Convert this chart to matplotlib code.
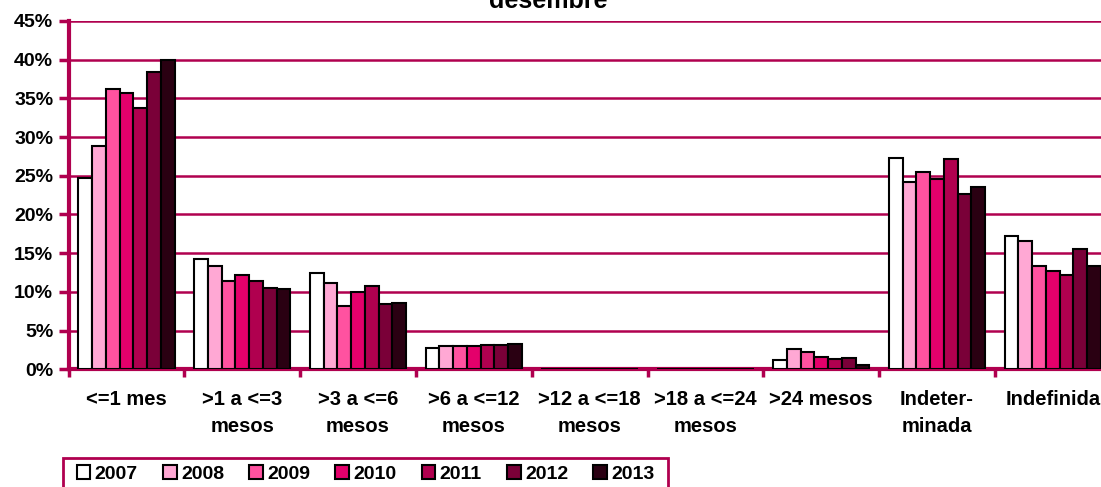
import numpy as np
import matplotlib.pyplot as plt
from matplotlib.patches import Rectangle
from matplotlib.ticker import FuncFormatter

plt.rcParams['font.family'] = ['Liberation Sans', 'DejaVu Sans']

categories = ["<=1 mes", ">1 a <=3\nmesos", ">3 a <=6\nmesos", ">6 a <=12\nmesos",
              ">12 a <=18\nmesos", ">18 a <=24\nmesos", ">24 mesos", "Indeter-\nminada",
              "Indefinida"]
years = ["2007", "2008", "2009", "2010", "2011", "2012", "2013"]

v2007 = [24.7, 14.2, 12.4, 2.7, 0.05, 0.05, 1.2, 27.3, 17.2]
v2008 = [28.9, 13.3, 11.1, 3.0, 0.05, 0.05, 2.6, 24.2, 16.6]
v2009 = [36.2, 11.4, 8.2, 3.0, 0.05, 0.05, 2.2, 25.5, 13.3]
v2010 = [35.7, 12.2, 10.0, 3.0, 0.05, 0.05, 1.6, 24.6, 12.7]
v2011 = [33.8, 11.4, 10.8, 3.2, 0.05, 0.05, 1.3, 27.2, 12.2]
v2012 = [38.4, 10.5, 8.4, 3.1, 0.05, 0.05, 1.5, 22.6, 15.6]
v2013 = [40.0, 10.4, 8.6, 3.3, 0.05, 0.05, 0.6, 23.6, 13.4]
series = [v2007, v2008, v2009, v2010, v2011, v2012, v2013]

colors = ["#FFFFFF", "#FFA8D4", "#FF52A0", "#E4006B", "#B0004F", "#7A0038", "#2A0012"]
axis_color = "#B0004F"

W, H = 1101, 487
fig = plt.figure(figsize=(W / 100, H / 100), dpi=100)
# plot area runs past the right edge, as in the original crop
ax = fig.add_axes([68.5 / W, 117.7 / H, 9 * 115.8 / W, 348.3 / H])

x = np.arange(len(categories))
bw = 0.119
for i, (vals, c) in enumerate(zip(series, colors)):
    ax.bar(x + 0.5 + (i - 3) * bw, vals, bw, color=c, edgecolor="black",
           linewidth=1.5, label=years[i], zorder=3)

ax.set_xlim(0, len(categories))
ax.set_ylim(0, 45)
ax.set_yticks(np.arange(0, 46, 5))
ax.yaxis.set_major_formatter(FuncFormatter(lambda v, p: f"{v:.0f}%"))
ax.grid(axis="y", color=axis_color, linewidth=1.8, zorder=0)

ax.set_xticks(np.arange(0, len(categories) + 1))
ax.set_xticklabels([])
ax.set_xticks(x + 0.5, minor=True)
ax.set_xticklabels(categories, minor=True, fontsize=14.5, fontweight="bold",
                   linespacing=1.5, va="top")
ax.tick_params(axis="x", which="minor", length=0, pad=15)
ax.tick_params(axis="x", which="major", length=6, width=2.5, color=axis_color)
ax.tick_params(axis="y", length=7, width=2.5, color=axis_color, labelsize=14, pad=4)
for lab in ax.get_yticklabels():
    lab.set_fontweight("bold")

for s in ["top", "right"]:
    ax.spines[s].set_visible(False)
for s in ["left", "bottom"]:
    ax.spines[s].set_color(axis_color)
    ax.spines[s].set_linewidth(3)

fig.text(548 / W, 1 - 8 / H, "desembre", ha="center", va="baseline",
         fontsize=18, fontweight="bold")

# legend box, cut at the bottom edge like the original
fig.add_artist(Rectangle((63.3 / W, -10 / H), (668 - 63.3) / W, (10 + 487 - 458.3) / H,
                         transform=fig.transFigure, fill=False,
                         edgecolor=axis_color, linewidth=2))
leg = fig.legend(loc="center left", bbox_to_anchor=(76.7 / W, 1 - 473.7 / H), ncol=7,
                 frameon=False, prop={"weight": "bold", "size": 14},
                 handlelength=0.7, handleheight=0.7, handletextpad=0.22,
                 columnspacing=1.3, borderpad=0, borderaxespad=0)

fig.savefig("out.png", dpi=100)
